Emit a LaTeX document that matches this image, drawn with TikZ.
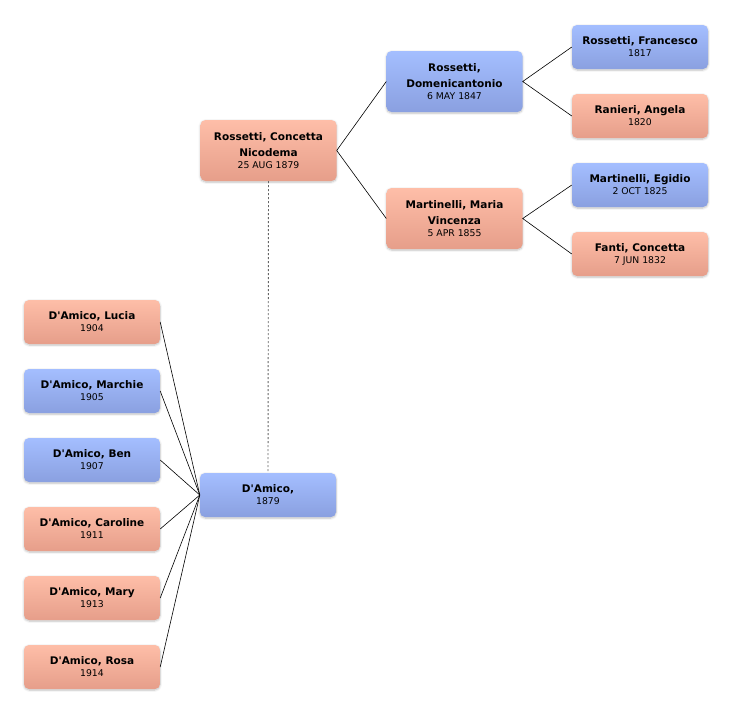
\documentclass[tikz,border=0pt]{standalone}
\usepackage{fontspec}
\setmainfont{DejaVu Sans}[Ligatures=TeXOff]
\usetikzlibrary{shadows.blur}
\definecolor{pinktop}{RGB}{254,190,168}
\definecolor{pinkbot}{RGB}{230,158,138}
\definecolor{bluetop}{RGB}{164,190,255}
\definecolor{bluebot}{RGB}{138,160,224}
\newcommand{\nm}[1]{{\bfseries #1}}
\newcommand{\dt}[1]{{\fontsize{9.3}{11}\selectfont #1}}
\begin{document}
\begin{tikzpicture}[x=1pt,y=-1pt,
   person/.style={rounded corners=5pt, minimum width=136pt, minimum height=44pt,
      align=center, inner sep=2pt, font=\fontsize{10.5}{16}\selectfont,
      blur shadow={shadow blur steps=6, shadow xshift=0pt, shadow yshift=-1pt, shadow opacity=25}},
   female/.style={person, top color=pinktop, bottom color=pinkbot},
   male/.style={person, top color=bluetop, bottom color=bluebot},
   tall/.style={minimum height=61pt},
   link/.style={draw=black, line width=0.6pt}]
   \useasboundingbox (0,0) rectangle (732,713);
   % ancestors
   \node[female,tall] (concetta) at (268.5,150.5) {\nm{Rossetti, Concetta}\\\nm{Nicodema}\\[-4pt]\dt{25 AUG 1879}};
   \node[male,tall] (domenico) at (454.5,81.5) {\nm{Rossetti,}\\\nm{Domenicantonio}\\[-4pt]\dt{6 MAY 1847}};
   \node[female,tall] (maria) at (454.5,218.5) {\nm{Martinelli, Maria}\\\nm{Vincenza}\\[-4pt]\dt{5 APR 1855}};
   \node[male] (francesco) at (640,47) {\nm{Rossetti, Francesco}\\[-4pt]\dt{1817}};
   \node[female] (angela) at (640,116) {\nm{Ranieri, Angela}\\[-4pt]\dt{1820}};
   \node[male] (egidio) at (640,185) {\nm{Martinelli, Egidio}\\[-4pt]\dt{2 OCT 1825}};
   \node[female] (fanti) at (640,254) {\nm{Fanti, Concetta}\\[-4pt]\dt{7 JUN 1832}};
   % husband
   \node[male] (damico) at (268,495) {\nm{D'Amico,}\\[-4pt]\dt{1879}};
   % children
   \node[female] (lucia) at (92,322) {\nm{D'Amico, Lucia}\\[-4pt]\dt{1904}};
   \node[male] (marchie) at (92,391) {\nm{D'Amico, Marchie}\\[-4pt]\dt{1905}};
   \node[male] (ben) at (92,460) {\nm{D'Amico, Ben}\\[-4pt]\dt{1907}};
   \node[female] (caroline) at (92,529) {\nm{D'Amico, Caroline}\\[-4pt]\dt{1911}};
   \node[female] (mary) at (92,598) {\nm{D'Amico, Mary}\\[-4pt]\dt{1913}};
   \node[female] (rosa) at (92,667) {\nm{D'Amico, Rosa}\\[-4pt]\dt{1914}};
   % links
   \draw[link] (domenico.west) -- (concetta.east) -- (maria.west);
   \draw[link] (francesco.west) -- (domenico.east) -- (angela.west);
   \draw[link] (egidio.west) -- (maria.east) -- (fanti.west);
   \foreach \kid in {lucia,marchie,ben,caroline,mary,rosa}
      \draw[link] (\kid.east) -- (damico.west);
   \draw[black!60, line width=0.9pt, dash pattern=on 2pt off 2pt] (concetta.south) -- (damico.north);
\end{tikzpicture}
\end{document}
